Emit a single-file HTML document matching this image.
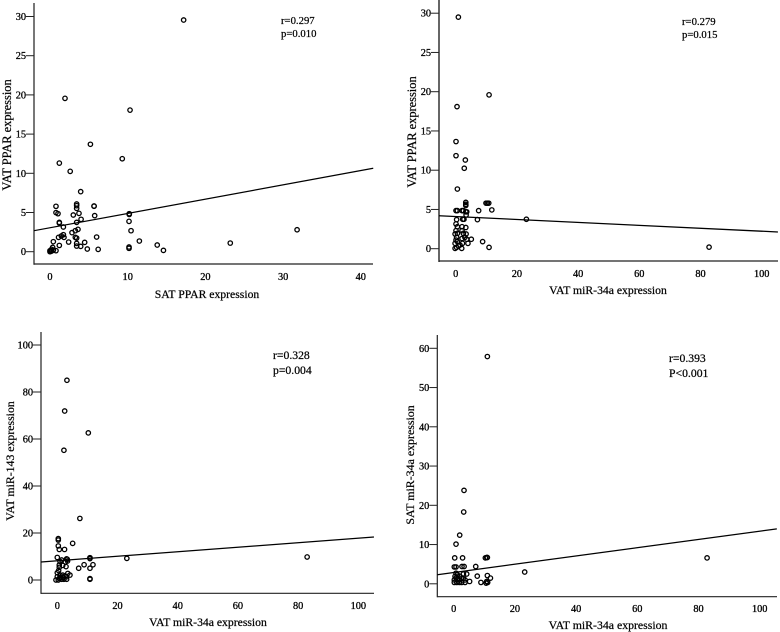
<!DOCTYPE html>
<html lang="en">
<head>
<meta charset="utf-8">
<title>Correlation scatter plots</title>
<style>
html,body{margin:0;padding:0;background:#fff;}
svg{display:block;filter:blur(0.25px);}
text{font-family:"Liberation Serif",serif;fill:#000;stroke:#000;stroke-width:.22px;}
.tick{font-size:10.3px;stroke-width:.3px;}
</style>
</head>
<body>
<svg id="chart" width="780" height="632" viewBox="0 0 780 632" xmlns="http://www.w3.org/2000/svg"></svg>
<script>
var xTicksA = [0, 10, 20, 30, 40];
var xTicksB = [0, 20, 40, 60, 80, 100];
var yTicksPpar = [0, 5, 10, 15, 20, 25, 30];
var yTicksMir143 = [0, 20, 40, 60, 80, 100];
var yTicksSat34 = [0, 10, 20, 30, 40, 50, 60];

var p1X = [17.2,1.93,10.3,5.2,9.3,1.2,2.6,3.95,.77,.77,1.03,3.43,3.43,3.43,5.67,5.67,3,3.73,4,3.43,1.2,1.2,5.75,1.72,3.6,3.26,2.83,1.72,1.46,1.1,1.8,3.26,3.43,6,2.4,4.46,.43,1.2,3.43,3.43,3.95,4.8,6.2,.77,.34,.2,.1,0,.2,.43,0,10.2,10.2,10.17,10.43,11.5,10.17,10.17,13.8,14.6,23.2,31.8];
var p1Y = [29.55,19.56,18.06,13.7,11.86,11.3,10.25,7.66,5.79,4.98,4.85,6.08,5.87,5.53,5.83,5.8,4.68,4.89,4.13,3.74,3.74,3.65,4.6,3.15,2.85,2.68,2.43,2.17,2,1.83,1.83,1.83,1.74,1.87,1.23,1.19,1.28,.8,1.06,.72,.68,.34,.3,.13,.55,.3,.13,.13,.08,.2,0,4.85,4.75,3.87,2.68,1.36,.6,.43,.85,.17,1.1,2.8];
var p1FitX = [-2.06, 41.6];
var p1FitY = [2.68, 10.64];

var p2X = [.87,10.9,.43,.1,.1,3.15,2.8,.55,3.3,3.3,3.3,10.35,10.8,9.9,11.8,7.5,7.1,23.1,8.8,10.9,.1,.55,2.07,2.5,3.3,3.6,3.4,.3,2.3,2.7,.1,.55,2.07,3.3,.1,.55,2.07,2.5,3.4,-.2,.3,2.07,3,5.1,4,3.6,.55,-.2,2.2,.3,.9,1.96,-.2,1.4,.1,82.8];
var p2Y = [29.5,19.6,18.1,13.65,11.85,11.3,10.25,7.6,5.9,5.66,5.5,5.8,5.8,5.8,4.94,4.85,3.7,3.75,.9,.17,4.85,4.85,4.85,4.85,4.7,4.7,4.3,3.7,3.75,3.75,3.15,2.8,2.8,2.7,2.3,1.96,2.3,1.96,1.87,1.87,1.45,1.3,1.45,1.2,.68,1.2,.9,.68,.68,.17,.34,.04,.04,.47,1.1,.2];
var p2FitX = [-5.46, 105.3];
var p2FitY = [4.2, 2.13];

var p3X = [3.2,2.45,2.2,10.3,7.5,5.1,.33,.33,.33,.66,2.4,0,1.44,3.1,3.3,10.85,10.85,23.1,.9,2.65,3.4,.66,1.8,2.9,8.9,7.1,10.85,11.85,10.85,10.85,.66,.44,3.5,4.2,0,.9,1.8,2.55,0,.66,1.44,2.2,3.1,.33,-.44,1.1,2,3.1,83];
var p3Y = [85,71.9,55.2,62.6,26.2,15.6,17.6,17,14.5,13,13,9.6,8.5,9,8.8,9.5,9.1,9.2,7.9,7.7,8.1,6.4,6.2,5.7,6.5,5,5,6.5,.6,.3,5.4,4,2.8,2.1,3.1,2.1,2.1,1.7,1.4,.7,.3,.3,.3,0,0,1.1,1.1,1.4,9.8];
var p3FitX = [-5.4, 105.2];
var p3FitY = [7.66, 18.3];

var p4X = [11,3.37,3.27,1.96,.76,.33,2.9,10.35,11,10.8,.2,.76,2.7,3.4,7.2,23.2,4.25,7.7,11,12,5.2,8.9,10.8,11.1,10.6,.76,.44,1.2,2.07,3.16,2.6,3.7,.2,1,1.85,2.6,3.7,.2,.76,1.85,3.16,1.2,82.8];
var p4Y = [57.9,23.8,18.3,12.4,10.1,6.6,6.6,6.6,6.7,6.7,4.3,4.3,4.4,4.4,4.4,3,2.5,1.95,2.1,1.45,.6,.35,.6,.35,.17,2.7,1.9,1.2,1.9,2.5,1.45,1,1,.35,.35,.35,.35,.35,1.45,1,1.45,2.3,6.6];
var p4FitX = [-5.36, 105.6];
var p4FitY = [2.32, 14];

var panels = [
 {id:'ppar-vs-sat-ppar', L:34, R:373, T:3, B:264, x0:50, xs:7.77, y0:251.7, ys:7.84,
  px:p1X, py:p1Y, fx:p1FitX, fy:p1FitY, xt:xTicksA, yt:yTicksPpar, axisW:1.6, axisC:'#555',
  xTitle:'SAT PPAR expression', xCx:207, xBase:298, xFont:11.7, xTickBase:280,
  yTitle:'VAT PPAR expression', yBase:11, yCy:135, yFont:12.4,
  stat:['r=0.297','p=0.010'], sx:281, sy:[24,37], sFont:10.7},
 {id:'ppar-vs-mir34a', L:439, R:778, T:0, B:261, x0:455.7, xs:3.06, y0:248.7, ys:7.85,
  px:p2X, py:p2Y, fx:p2FitX, fy:p2FitY, xt:xTicksB, yt:yTicksPpar, axisW:2, axisC:'#666',
  xTitle:'VAT miR-34a expression', xCx:608, xBase:294, xFont:11.7, xTickBase:277,
  yTitle:'VAT PPAR expression', yBase:416, yCy:132, yFont:12.4,
  stat:['r=0.279','p=0.015'], sx:682, sy:[25,38], sFont:10.7},
 {id:'mir143-vs-mir34a', L:41, R:374, T:332, B:593.3, x0:57.3, xs:3.01, y0:580, ys:2.35,
  px:p3X, py:p3Y, fx:p3FitX, fy:p3FitY, xt:xTicksB, yt:yTicksMir143, axisW:1.2, axisC:'#222',
  xTitle:'VAT miR-34a expression', xCx:208, xBase:626, xFont:11.7, xTickBase:609,
  yTitle:'VAT miR-143 expression', yBase:14, yCy:461, yFont:11.8,
  stat:['r=0.328','p=0.004'], sx:273, sy:[359,374], sFont:11.7},
 {id:'sat-mir34a-vs-vat-mir34a', L:437.3, R:777, T:335, B:596.7, x0:453.7, xs:3.06, y0:583.8, ys:3.925,
  px:p4X, py:p4Y, fx:p4FitX, fy:p4FitY, xt:xTicksB, yt:yTicksSat34, axisW:1.2, axisC:'#222',
  xTitle:'VAT miR-34a expression', xCx:608, xBase:629, xFont:11.8, xTickBase:612,
  yTitle:'SAT miR-34a expression', yBase:414, yCy:465, yFont:11.9,
  stat:['r=0.393','P<0.001'], sx:669, sy:[362,377], sFont:11.7}
];

var NS = 'http://www.w3.org/2000/svg';
var root = document.getElementById('chart');
function mk(parent, tag, attrs, txt) {
  var el = document.createElementNS(NS, tag);
  for (var k in attrs) el.setAttribute(k, attrs[k]);
  if (txt !== undefined) el.textContent = txt;
  parent.appendChild(el);
  return el;
}
panels.forEach(function (p) {
  var sx = function (v) { return p.x0 + v * p.xs; };
  var sy = function (v) { return p.y0 - v * p.ys; };
  var g = mk(root, 'g', {});
  
  

  var yAxis = mk(g, 'line', {x1:p.L, x2:p.L, y1:p.T, y2:p.B + p.axisW / 2, stroke:p.axisC, 'stroke-width':p.axisW});
  
  
  var xAxis = mk(g, 'line', {x1:p.L, x2:p.R, y1:p.B, y2:p.B, stroke:'#222', 'stroke-width':1.2});
  
  

  p.yt.forEach(function (t) {
    var tk = mk(g, 'line', {x1:p.L - 8, x2:p.L, y1:sy(t), y2:sy(t), stroke:'#222', 'stroke-width':1});
    
    
    var lb = mk(g, 'text', {x:p.L - 8, y:sy(t) + 3.5, 'text-anchor':'end', 'class':'tick'}, String(t));
    
    
  });
  p.xt.forEach(function (t) {
    var lb = mk(g, 'text', {x:sx(t), y:p.xTickBase, 'text-anchor':'middle', 'class':'tick'}, String(t));
    
    
  });

  var fit = mk(g, 'line', {x1:sx(p.fx[0]), y1:sy(p.fy[0]), x2:sx(p.fx[1]), y2:sy(p.fy[1]), stroke:'#000', 'stroke-width':1.25});
  
  

  p.px.forEach(function (v, i) {
    var c = mk(g, 'circle', {cx:sx(v), cy:sy(p.py[i]), r:2.2, fill:'none', stroke:'#000', 'stroke-width':1.3});
    
    
  });

  var xt = mk(g, 'text', {x:p.xCx, y:p.xBase, 'text-anchor':'middle', 'font-size':p.xFont}, p.xTitle);
  
  
  var yt = mk(g, 'text', {x:p.yBase, y:p.yCy, 'text-anchor':'middle', 'font-size':p.yFont,
    transform:'rotate(-90 ' + p.yBase + ' ' + p.yCy + ')'}, p.yTitle);
  
  

  var r = mk(g, 'text', {x:p.sx, y:p.sy[0], 'font-size':p.sFont}, p.stat[0]);
  
  
  var pv = mk(g, 'text', {x:p.sx, y:p.sy[1], 'font-size':p.sFont}, p.stat[1]);
  
  
});
</script>
</body>
</html>
